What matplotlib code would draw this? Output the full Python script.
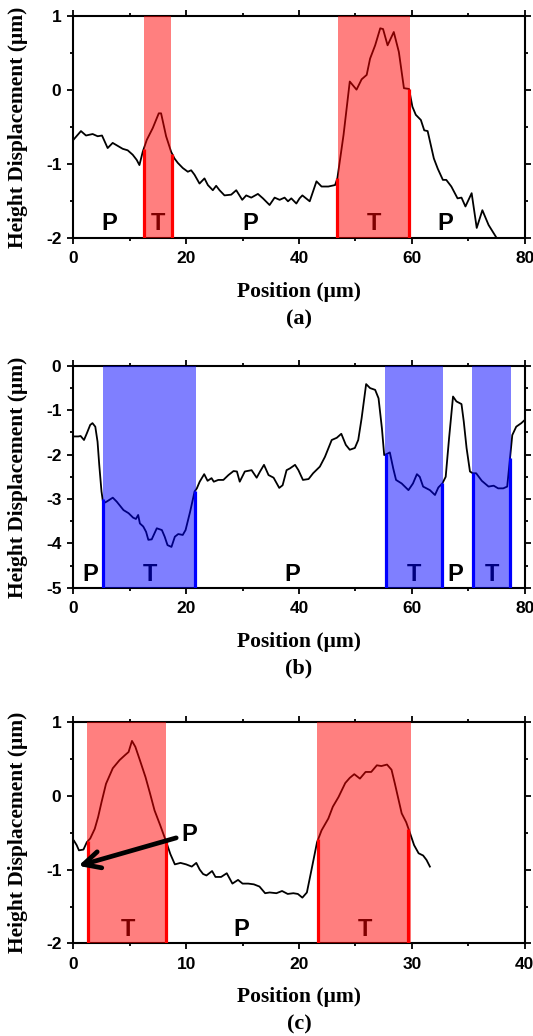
import numpy as np
import matplotlib
matplotlib.use("Agg")
import matplotlib.pyplot as plt
from matplotlib.ticker import MultipleLocator

plt.rcParams['axes.unicode_minus'] = False

# surface profiles, position in um, height in um
xa = [0, 1.36, 2.25, 3.43, 4.32, 5.09, 6.09, 6.98, 7.87, 8.76, 9.64, 10.53, 11.24, 11.72, 12.31, 13.02,
      14.08, 15.15, 15.56, 16.45, 17.34, 17.93, 18.52, 19.41, 20.3, 20.89, 21.48, 22.37, 23.25, 23.85,
      24.73, 25.32, 25.92, 26.8, 27.99, 28.88, 29.94, 30.65, 31.54, 32.72, 33.61, 34.79, 35.68, 36.57,
      37.45, 38.05, 38.64, 39.53, 40.1, 40.6, 41.9, 43.1, 44.0, 45.2, 46.4, 46.8, 47.9, 49.0, 50.2, 51.1,
      52.0, 52.6, 53.5, 54.4, 54.9, 55.7, 56.8, 57.7, 58.6, 59.5, 60.1, 60.7, 61.6, 62.2, 62.8, 63.9,
      64.6, 65.5, 66.1, 67.0, 68.1, 68.8, 69.5, 70.6, 71.5, 72.5, 73.6, 74.9]
ya = [-0.67, -0.55, -0.61, -0.59, -0.62, -0.61, -0.78, -0.71, -0.75, -0.79, -0.81, -0.87, -0.94, -1.01,
      -0.83, -0.67, -0.51, -0.31, -0.31, -0.62, -0.83, -0.92, -0.98, -1.05, -1.10, -1.08, -1.14, -1.26,
      -1.19, -1.28, -1.35, -1.29, -1.35, -1.42, -1.41, -1.35, -1.48, -1.42, -1.45, -1.40, -1.46, -1.55,
      -1.45, -1.48, -1.45, -1.50, -1.46, -1.53, -1.46, -1.42, -1.50, -1.23, -1.30, -1.30, -1.28, -1.19,
      -0.60, 0.12, 0.01, 0.15, 0.21, 0.43, 0.61, 0.84, 0.83, 0.61, 0.79, 0.52, 0.03, 0.02, -0.22, -0.33,
      -0.40, -0.54, -0.55, -0.92, -1.06, -1.21, -1.21, -1.30, -1.46, -1.45, -1.57, -1.39, -1.86, -1.62,
      -1.82, -1.98]

xb = [0.0, 0.9, 1.3, 1.9, 2.4, 3.0, 3.4, 3.9, 4.3, 4.6, 5.0, 5.3, 5.9, 7.0, 7.7, 8.9, 9.8, 10.6, 11.1,
      11.5, 11.8, 12.4, 12.9, 13.3, 13.9, 14.8, 15.7, 16.2, 16.7, 17.4, 18.0, 18.6, 19.4, 19.9, 20.7,
      21.5, 21.9, 22.4, 23.2, 23.8, 24.5, 24.9, 25.7, 26.6, 27.5, 28.4, 29.0, 29.5, 30.4, 31.6, 32.5,
      33.1, 33.8, 34.6, 35.5, 36.5, 37.1, 37.8, 38.4, 39.3, 39.9, 40.7, 41.7, 42.5, 43.7, 44.6, 45.8,
      46.7, 47.5, 48.3, 49.0, 49.9, 50.5, 51.1, 51.9, 52.6, 53.5, 54.1, 54.7, 55.1, 55.5, 56.1, 56.7,
      57.2, 58.2, 59.4, 60.2, 60.9, 61.4, 62.0, 63.2, 64.1, 64.7, 65.4, 66.0, 66.6, 67.3, 67.9, 68.8,
      69.2, 69.7, 70.3, 70.8, 71.4, 72.4, 73.6, 74.5, 75.3, 76.2, 76.9, 77.4, 77.8, 78.5, 79.4, 80.0]
yb = [-1.59, -1.59, -1.58, -1.67, -1.52, -1.33, -1.29, -1.37, -1.71, -2.23, -2.83, -3.10, -3.06, -2.97,
      -3.06, -3.25, -3.32, -3.42, -3.45, -3.36, -3.55, -3.62, -3.74, -3.92, -3.91, -3.66, -3.70, -3.85,
      -4.04, -4.08, -3.85, -3.79, -3.81, -3.70, -3.29, -2.83, -2.76, -2.61, -2.44, -2.59, -2.53, -2.61,
      -2.57, -2.57, -2.46, -2.37, -2.38, -2.61, -2.38, -2.35, -2.52, -2.38, -2.23, -2.46, -2.52, -2.75,
      -2.69, -2.35, -2.31, -2.23, -2.35, -2.57, -2.55, -2.42, -2.27, -2.05, -1.67, -1.62, -1.53, -1.78,
      -1.89, -1.85, -1.67, -1.18, -0.41, -0.50, -0.54, -0.73, -1.41, -2.01, -1.99, -1.95, -2.31, -2.57,
      -2.65, -2.80, -2.65, -2.44, -2.50, -2.72, -2.80, -2.91, -2.74, -2.65, -2.50, -1.63, -0.69, -0.80,
      -0.86, -1.25, -1.85, -2.38, -2.42, -2.42, -2.59, -2.72, -2.70, -2.76, -2.76, -2.72, -2.08, -1.56,
      -1.37, -1.29, -1.22]

xc = [0.06, 0.3, 0.5, 0.9, 1.2, 1.5, 1.9, 2.2, 2.5, 2.9, 3.5, 4.1, 4.6, 4.9, 5.2, 5.5, 5.9, 6.4, 6.8,
      7.2, 7.7, 8.2, 8.6, 9.0, 9.5, 10.0, 10.5, 10.9, 11.2, 11.5, 11.8, 12.3, 12.6, 13.1, 13.6, 14.1,
      14.6, 15.0, 15.5, 16.0, 16.5, 17.0, 17.4, 18.0, 18.5, 19.0, 19.5, 19.9, 20.3, 20.7, 21.1, 21.6,
      22.0, 22.6, 23.0, 23.5, 24.1, 24.5, 24.9, 25.4, 25.9, 26.4, 26.9, 27.3, 27.8, 28.2, 28.5, 28.8,
      29.1, 29.5, 29.8, 30.2, 30.6, 31.0, 31.3, 31.6]
yc = [-0.61, -0.67, -0.74, -0.73, -0.63, -0.58, -0.45, -0.29, -0.09, 0.16, 0.37, 0.48, 0.55, 0.59,
      0.74, 0.66, 0.48, 0.25, 0.03, -0.20, -0.40, -0.61, -0.79, -0.93, -0.91, -0.93, -0.96, -0.91,
      -1.00, -1.06, -1.08, -1.02, -1.10, -1.10, -1.05, -1.19, -1.14, -1.19, -1.19, -1.20, -1.23, -1.32,
      -1.31, -1.32, -1.29, -1.33, -1.32, -1.33, -1.38, -1.31, -1.01, -0.63, -0.47, -0.31, -0.15, -0.02,
      0.17, 0.24, 0.29, 0.23, 0.32, 0.32, 0.41, 0.40, 0.42, 0.35, 0.16, -0.04, -0.24, -0.36, -0.49,
      -0.67, -0.78, -0.81, -0.87, -0.96]

# T regions (start, end) and boundary positions
regions_a = [(12.5, 17.4), (46.9, 59.7)]
bounds_a = [12.5, 17.5, 46.8, 59.5]
regions_b = [(5.2, 21.7), (55.3, 65.5), (70.7, 77.5)]
bounds_b = [5.2, 21.6, 55.4, 65.4, 70.8, 77.4]
regions_c = [(1.2, 8.2), (21.6, 29.9)]
bounds_c = [1.27, 8.2, 21.7, 29.7]

# P / T labels along the bottom
labels_a = [(6.4, 'P'), (15.0, 'T'), (31.4, 'P'), (53.2, 'T'), (65.9, 'P')]
labels_b = [(3.0, 'P'), (13.5, 'T'), (38.8, 'P'), (60.4, 'T'), (67.7, 'P'), (74.2, 'T')]
labels_c = [(4.8, 'T'), (14.9, 'P'), (25.8, 'T')]

SERIF = ['Liberation Serif', 'DejaVu Serif']
SANS = ['Liberation Sans', 'DejaVu Sans']

fig = plt.figure(figsize=(5.33, 10.36), dpi=100)

panels = [
    dict(rect=[0.1375, 0.7700, 0.8469, 0.2141], x=xa, y=ya, regions=regions_a, bounds=bounds_a,
         labels=labels_a, ylim=(-2, 1), xlim=(0, 80), xmaj=20, xmin=10, ylab=-1.80,
         shade='red', edge='#ff0000', tag='(a)'),
    dict(rect=[0.1375, 0.4327, 0.8469, 0.2141], x=xb, y=yb, regions=regions_b, bounds=bounds_b,
         labels=labels_b, ylim=(-5, 0), xlim=(0, 80), xmaj=20, xmin=10, ylab=-4.71,
         shade='blue', edge='#0000ff', tag='(b)'),
    dict(rect=[0.1375, 0.0893, 0.8469, 0.2141], x=xc, y=yc, regions=regions_c, bounds=bounds_c,
         labels=labels_c, ylim=(-2, 1), xlim=(0, 40), xmaj=10, xmin=5, ylab=-1.81,
         shade='red', edge='#ff0000', tag='(c)'),
]

axes = []
for p in panels:
    ax = fig.add_axes(p['rect'])
    axes.append(ax)
    ax.plot(p['x'], p['y'], color='black', lw=1.3, zorder=1, clip_on=True)

    for x0, x1 in p['regions']:
        ax.axvspan(x0, x1, color=p['shade'], alpha=0.5, lw=0, zorder=2.6)

    # boundary markers run from the baseline up to the profile
    for xb_ in p['bounds']:
        top = np.interp(xb_, p['x'], p['y'])
        ax.plot([xb_, xb_], [p['ylim'][0], top], color=p['edge'], lw=2.3, zorder=3,
                solid_capstyle='butt')

    for xl, t in p['labels']:
        ax.text(xl, p['ylab'], t, ha='center', va='center', fontsize=17, fontweight='bold',
                family=SANS, zorder=1 if t == 'T' else 3)

    ax.set_xlim(*p['xlim'])
    ax.set_ylim(*p['ylim'])
    ax.xaxis.set_major_locator(MultipleLocator(p['xmaj']))
    ax.xaxis.set_minor_locator(MultipleLocator(p['xmin']))
    ax.yaxis.set_major_locator(MultipleLocator(1))
    ax.yaxis.set_minor_locator(MultipleLocator(0.5))
    ax.tick_params(which='both', direction='out', top=True, right=True, width=1.3, color='black')
    ax.tick_params(which='major', length=4.5)
    ax.tick_params(which='minor', length=2.5)
    ax.tick_params(axis='x', which='major', pad=5)
    ax.tick_params(axis='y', which='major', pad=4)
    for lab in ax.get_xticklabels() + ax.get_yticklabels():
        lab.set_fontfamily(SANS)
        lab.set_fontweight('bold')
        lab.set_fontsize(12.5)
    for s in ax.spines.values():
        s.set_linewidth(1.5)

    ax.set_xlabel('Position (\u03bcm)', fontsize=15.5, fontweight='bold', family=SERIF, va='center')
    ax.xaxis.set_label_coords(0.5, -0.243)
    ax.set_ylabel('Height Displacement (\u03bcm)', fontsize=15.5, fontweight='bold', family=SERIF,
                  va='center')
    ax.yaxis.set_label_coords(-0.1225, 0.5)
    ax.text(0.5, -0.365, p['tag'], transform=ax.transAxes, ha='center', va='center',
            fontsize=16, fontweight='bold', family=SERIF)

# arrow pointing at the P layer left of the first T region in (c)
axes[2].annotate('P', xy=(0.45, -0.95), xytext=(10.3, -0.52), ha='center', va='center',
                 fontsize=17, fontweight='bold', family=SANS, zorder=4,
                 arrowprops=dict(arrowstyle='->', lw=3.4, color='black', mutation_scale=30,
                                 shrinkA=2, shrinkB=0))

fig.savefig('out.png', dpi=100)
